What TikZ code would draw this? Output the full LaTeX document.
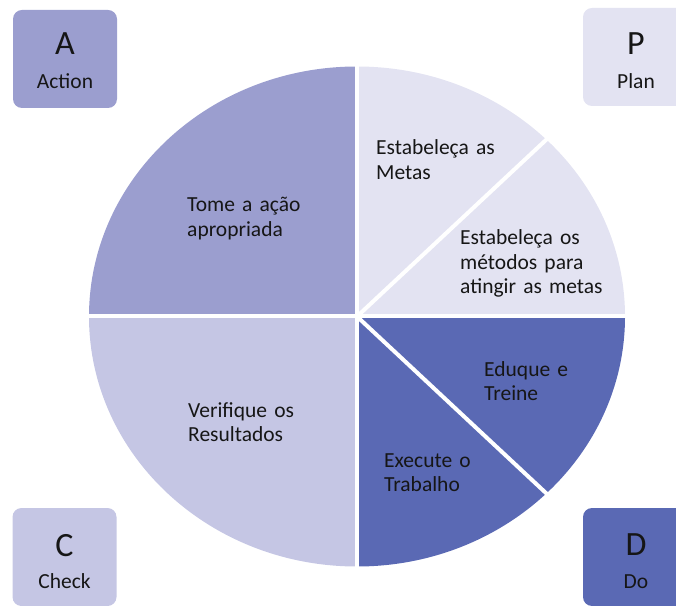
\documentclass[tikz,border=0pt]{standalone}
\usepackage{fontspec}
\setmainfont{Carlito}
\usetikzlibrary{calc}
\definecolor{actcol}{RGB}{155,158,207}
\definecolor{plancol}{RGB}{227,227,242}
\definecolor{chkcol}{RGB}{197,198,228}
\definecolor{docol}{RGB}{90,105,180}
\definecolor{txtcol}{RGB}{22,22,22}
\begin{document}
\begin{tikzpicture}[x=1pt,y=1pt,
  lbl/.style={anchor=base west, inner sep=0pt, text width=200pt, align=left,
    font=\fontsize{21.5}{24.5}\selectfont, text=txtcol},
  boxnode/.style={draw=none, rounded corners=9pt, minimum width=104pt,
    minimum height=98pt, inner sep=0pt},
  bigletter/.style={anchor=base, inner sep=0pt, font=\fontsize{34}{40}\selectfont, text=txtcol},
  word/.style={anchor=base, inner sep=0pt, font=\fontsize{21.5}{24}\selectfont, text=txtcol},
  divider/.style={draw=white, line width=4pt}]
\useasboundingbox (0,0) rectangle (676,605);
\clip (0,0) rectangle (676,605);
\coordinate (O) at (357,288.5);
% slices
\fill[plancol] (O) -- ++(0:268pt and 250pt) arc[start angle=0,end angle=90,x radius=268pt,y radius=250pt] -- cycle;
\fill[actcol] (O) -- ++(90:268pt and 250pt) arc[start angle=90,end angle=180,x radius=268pt,y radius=250pt] -- cycle;
\fill[chkcol] (O) -- ++(180:268pt and 250pt) arc[start angle=180,end angle=270,x radius=268pt,y radius=250pt] -- cycle;
\fill[docol] (O) -- ++(270:268pt and 250pt) arc[start angle=270,end angle=360,x radius=268pt,y radius=250pt] -- cycle;
% rim points
\coordinate (r0) at ($(O)+(0:274pt and 256pt)$);
\coordinate (r45) at ($(O)+(45:274pt and 256pt)$);
\coordinate (r90) at ($(O)+(90:274pt and 256pt)$);
\coordinate (r180) at ($(O)+(180:274pt and 256pt)$);
\coordinate (r270) at ($(O)+(270:274pt and 256pt)$);
\coordinate (r315) at ($(O)+(315:274pt and 256pt)$);
\draw[divider] (O) -- (r0);
\draw[divider] (O) -- (r45);
\draw[divider] (O) -- (r90);
\draw[divider] (O) -- (r180);
\draw[divider] (O) -- (r270);
\draw[divider] (O) -- (r315);
% slice labels
\node[lbl] (metas) at (376,450) {Estabeleça as\\Metas};
\node[lbl] (metodos) at (460,360) {Estabeleça os\\métodos para\\atingir as metas};
\node[lbl] (tome) at (187,393) {Tome a ação\\apropriada};
\node[lbl] (verif) at (188,188) {Verifique os\\Resultados};
\node[lbl] (eduque) at (484,229) {Eduque e\\Treine};
\node[lbl] (exec) at (384,138) {Execute o\\Trabalho};
% corner boxes
\node[boxnode, fill=actcol] (boxA) at (65,546) {};
\node[bigletter] (letA) at (65,550) {A};
\node[word] (wordA) at (65,516) {Action};
\node[boxnode, fill=plancol] (boxP) at (635,548) {};
\node[bigletter] (letP) at (636,550) {P};
\node[word] (wordP) at (636,516) {Plan};
\node[boxnode, fill=chkcol] (boxC) at (64.5,48) {};
\node[bigletter] (letC) at (64.5,49) {C};
\node[word] (wordC) at (64.5,17) {Check};
\node[boxnode, fill=docol] (boxD) at (635,48) {};
\node[bigletter] (letD) at (636,50) {D};
\node[word] (wordD) at (636,17) {Do};
\end{tikzpicture}
\end{document}
